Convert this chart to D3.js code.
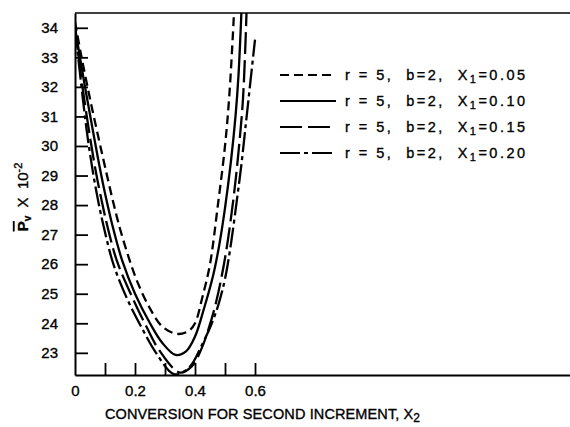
<!DOCTYPE html>
<html>
<head>
<meta charset="utf-8">
<script src="https://cdn.jsdelivr.net/npm/d3@7"></script>
<style>
  body { margin: 0; background: #fff; }
  text { font-family: "Liberation Sans", Arial, sans-serif; fill: #000; stroke: #000; stroke-width: 0.35px; }
</style>
</head>
<body>
<svg id="chart"></svg>
<script>
// tick values
const yTicks = [23, 24, 25, 26, 27, 28, 29, 30, 31, 32, 33, 34];
const xTickMarks = [0.1, 0.2, 0.3, 0.4, 0.5, 0.6];
const xTickLabels = [0, 0.2, 0.4, 0.6];

// series: X1 values and legend text
const x1Values = ["0.05", "0.10", "0.15", "0.20"];

// conversion X2 and Pv (x 10^-2)
const x2_005 = [0, 0.02, 0.05, 0.08, 0.10, 0.125, 0.15, 0.18, 0.21, 0.25, 0.29, 0.34, 0.38, 0.40, 0.425, 0.45, 0.475, 0.50, 0.515, 0.53];
const pv_005 = [34.2, 33.1, 31.6, 30.2, 29.3, 28.2, 27.2, 26.2, 25.35, 24.5, 23.9, 23.64, 23.75, 24.0, 24.9, 26.0, 27.9, 30.0, 31.8, 34.5];

const x2_010 = [0, 0.03, 0.06, 0.08, 0.10, 0.125, 0.158, 0.20, 0.25, 0.29, 0.335, 0.37, 0.40, 0.43, 0.46, 0.48, 0.50, 0.52, 0.535, 0.545, 0.555];
const pv_010 = [34.0, 32.2, 30.5, 29.4, 28.4, 27.3, 26.1, 25.0, 24.0, 23.35, 22.93, 23.05, 23.55, 24.5, 25.6, 26.6, 27.9, 29.5, 31.0, 32.4, 34.6];

const x2_015 = [0, 0.025, 0.05, 0.07, 0.092, 0.11, 0.14, 0.19, 0.235, 0.28, 0.35, 0.39, 0.42, 0.445, 0.47, 0.50, 0.528, 0.545, 0.56, 0.572];
const pv_015 = [34.0, 32.0, 30.3, 29.1, 28.0, 27.2, 26.1, 24.9, 23.95, 23.1, 22.33, 22.55, 23.1, 23.8, 24.7, 26.2, 28.2, 29.8, 31.6, 34.6];

const x2_020 = [0, 0.025, 0.042, 0.06, 0.078, 0.095, 0.128, 0.175, 0.225, 0.27, 0.33, 0.38, 0.42, 0.46, 0.48, 0.50, 0.52, 0.54, 0.555, 0.57, 0.585, 0.60];
const pv_020 = [34.0, 31.7, 30.3, 29.1, 28.1, 27.3, 26.0, 24.8, 23.8, 23.0, 22.28, 22.5, 23.2, 24.1, 24.7, 25.5, 26.7, 28.2, 29.4, 30.8, 32.2, 33.6];

const width = 570;
const height = 427;

const series = [
    { x1: x1Values[0], xs: x2_005, ys: pv_005, dash: "9,5" },
    { x1: x1Values[1], xs: x2_010, ys: pv_010, dash: null },
    { x1: x1Values[2], xs: x2_015, ys: pv_015, dash: "22,6" },
    { x1: x1Values[3], xs: x2_020, ys: pv_020, dash: "20,4,4,4" }
];

const svg = d3.select("#chart")
    .attr("width", width)
    .attr("height", height);

const xScale = d3.scaleLinear().domain([0, 1.65]).range([75, 570]);
const yScale = d3.scaleLinear().domain([22.25, 34.5]).range([375, 13]);

svg.append("clipPath").attr("id", "plot")
    .append("rect")
    .attr("x", 75).attr("y", 13)
    .attr("width", 495).attr("height", 362);

// frame: top line
svg.append("line")
    .attr("x1", 75).attr("x2", 570)
    .attr("y1", 13).attr("y2", 13)
    .attr("stroke", "#000").attr("stroke-width", 1.5);

// y axis, ticks pointing inward
svg.append("g")
    .attr("transform", "translate(75,0)")
    .call(d3.axisLeft(yScale).tickValues(yTicks).tickSize(-13).tickSizeOuter(0).tickPadding(17).tickFormat(d3.format("d")));

// x axis tick marks
svg.append("g")
    .attr("transform", "translate(0,375)")
    .call(d3.axisBottom(xScale).tickValues(xTickMarks).tickSize(-12).tickSizeOuter(0).tickFormat(""));

// x axis labels
const xLab = svg.append("g")
    .attr("transform", "translate(0,375)")
    .call(d3.axisBottom(xScale).tickValues(xTickLabels).tickSize(0).tickPadding(10).tickFormat(d => d === 0 ? "0" : d3.format(".1f")(d)));
xLab.select(".domain").remove();

svg.selectAll(".domain").attr("stroke-width", 2);
svg.selectAll(".tick line").attr("stroke-width", 1.8);
svg.selectAll(".tick text")
    .attr("font-size", 15)
    .attr("font-family", "Liberation Sans, Arial, sans-serif")
    .attr("fill", "#000");

// curves
const line = d3.line()
    .x(d => xScale(d[0]))
    .y(d => yScale(d[1]))
    .curve(d3.curveCatmullRom.alpha(0.5));

svg.append("g")
    .attr("clip-path", "url(#plot)")
    .selectAll("path")
    .data(series)
    .enter()
    .append("path")
    .attr("d", s => line(s.xs.map((x, i) => [x, s.ys[i]])))
    .attr("fill", "none")
    .attr("stroke", "#000")
    .attr("stroke-width", 2.3)
    .attr("stroke-dasharray", s => s.dash);

// legend
const legendRows = [75, 101, 127, 153];
const legend = svg.append("g");
series.forEach((s, i) => {
    const y = legendRows[i];
    legend.append("line")
        .attr("x1", 280).attr("x2", 336)
        .attr("y1", y).attr("y2", y)
        .attr("stroke", "#000")
        .attr("stroke-width", 2.2)
        .attr("stroke-dasharray", s.dash);
    const t = legend.append("text")
        .attr("x", 345).attr("y", y + 5)
        .attr("font-size", 14.5)
        .attr("textLength", 180)
        .attr("lengthAdjust", "spacing")
        .style("white-space", "pre");
    t.append("tspan").text("r = 5,  b=2,  X");
    t.append("tspan").attr("font-size", 11).attr("dy", 3).text("1");
    t.append("tspan").attr("dy", -3).text("=" + s.x1);
});

// x axis title
const xt = svg.append("text")
    .attr("x", 105).attr("y", 419)
    .attr("font-size", 14.5)
    .attr("textLength", 315)
    .attr("lengthAdjust", "spacing");
xt.append("tspan").text("CONVERSION FOR SECOND INCREMENT, X");
xt.append("tspan").attr("font-size", 12).attr("dy", 3).text("2");

// y axis title
const yt = svg.append("text")
    .attr("transform", "translate(28,197) rotate(-90)")
    .attr("text-anchor", "middle")
    .attr("font-size", 15)
    .style("white-space", "pre");
yt.append("tspan").style("text-decoration", "overline").attr("font-weight", "bold").text("P");
yt.append("tspan").attr("font-size", 10).attr("dy", 3).attr("font-weight", "bold").text("v");
yt.append("tspan").attr("dy", -3).text("  X  10");
yt.append("tspan").attr("font-size", 11).attr("dy", -6).text("-2");
</script>
</body>
</html>
